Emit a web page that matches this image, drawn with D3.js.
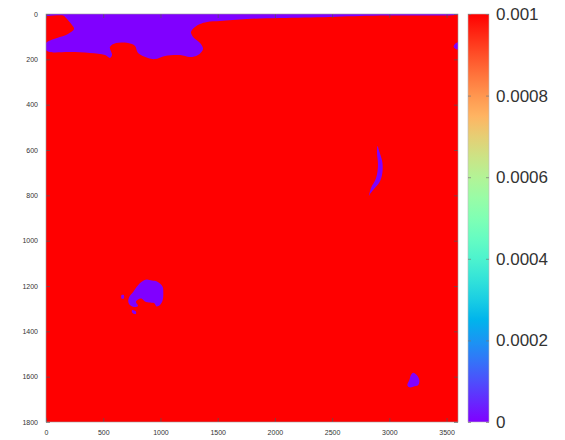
<!DOCTYPE html>
<html>
<head>
<meta charset="utf-8">
<script src="https://cdn.jsdelivr.net/npm/d3@7"></script>
<style>
  body { margin: 0; background: #fff; }
  text { font-family: "Liberation Sans", Arial, sans-serif; }
</style>
</head>
<body>
<div id="chart"></div>
<script>
// ---- data ----
const xTicks  = [0, 500, 1000, 1500, 2000, 2500, 3000, 3500];
const yTicks  = [0, 200, 400, 600, 800, 1000, 1200, 1400, 1600, 1800];
const cbTicks = [0, 0.0002, 0.0004, 0.0006, 0.0008, 0.001];
const cbLabels = ["0", "0.0002", "0.0004", "0.0006", "0.0008", "0.001"];

// the field is saturated (>= 0.001) everywhere except the zero-valued regions below
const fieldValue = 0.001;

// zero-valued regions, outlines in data units [x, y]
const topRegion = [
  [0,0],[3600,0],[3600,2],[2918,7],[2481,13],[2045,18],[1756,22],[1520,31],[1407,35],
  [1346,44],[1302,57],[1267,79],[1285,101],[1346,128],[1372,154],[1328,181],[1258,190],
  [1171,181],[1040,185],[952,199],[891,194],[804,172],[778,141],[717,128],[612,128],
  [559,146],[577,181],[559,194],[516,181],[384,172],[210,168],[35,168],[0,159],
  [0,128],[96,106],[192,88],[245,66],[227,49],[175,18],[149,7],[0,7]
];
const edgeNotch = [[3600,125],[3572,133],[3562,144],[3580,154],[3600,156]];
const crescent = [
  [2897,582],[2914,609],[2940,657],[2936,710],[2910,746],[2866,772],[2831,794],
  [2822,803],[2840,768],[2884,724],[2901,666],[2892,609]
];
const midBlob = [
  [836,1181],[880,1171],[926,1176],[970,1180],[996,1189],[1020,1204],[1025,1231],
  [1020,1262],[996,1284],[966,1290],[944,1275],[909,1273],[865,1268],[834,1255],
  [804,1260],[786,1271],[804,1288],[769,1293],[734,1284],[719,1269],[728,1247],
  [763,1225],[793,1203]
];
const speck1 = [[660,1240],[680,1240],[680,1255],[660,1255]];
const speck2 = [[752,1306],[786,1312],[784,1324],[754,1318]];
const lowBlob = [
  [3209,1583],[3239,1593],[3262,1615],[3253,1637],[3209,1644],[3175,1647],
  [3157,1637],[3175,1615],[3189,1593]
];
const regions = [
  {pts: topRegion, v: 0}, {pts: edgeNotch, v: 0}, {pts: crescent, v: 0},
  {pts: midBlob, v: 0}, {pts: speck1, v: 0}, {pts: speck2, v: 0}, {pts: lowBlob, v: 0}
];

// ---- layout ----
const W = 565, H = 440;
const plot = {x0: 46, x1: 458, y0: 14, y1: 422};
const cb = {x0: 468, x1: 489};

const svg = d3.select("#chart").append("svg").attr("width", W).attr("height", H);

const x = d3.scaleLinear().domain([0, 3600]).range([plot.x0, plot.x1]);
const y = d3.scaleLinear().domain([0, 1800]).range([plot.y0, plot.y1]);

// matplotlib-like "rainbow" colormap
function rainbow(t) {
  const r = Math.min(1, Math.abs(2 * t - 0.5));
  const g = Math.sin(Math.PI * t);
  const b = Math.cos(Math.PI * t / 2);
  return d3.rgb(r * 255, g * 255, b * 255).formatHex();
}
const colour = d3.scaleSequential(rainbow).domain([0, 0.001]).clamp(true);

// clip for the map
svg.append("clipPath").attr("id", "clip")
   .append("rect")
   .attr("x", plot.x0).attr("y", plot.y0)
   .attr("width", plot.x1 - plot.x0).attr("height", plot.y1 - plot.y0);

const map = svg.append("g").attr("clip-path", "url(#clip)");

map.append("rect")
   .attr("x", x(0)).attr("y", y(0))
   .attr("width", x(3600) - x(0)).attr("height", y(1800) - y(0))
   .attr("fill", colour(fieldValue));

const line = d3.line().x(d => x(d[0])).y(d => y(d[1])).curve(d3.curveCatmullRomClosed.alpha(0.5));

map.selectAll("path.region")
   .data(regions)
   .join("path")
   .attr("class", "region")
   .attr("d", d => line(d.pts))
   .attr("fill", d => colour(d.v));

// ---- axes (ticks on all four sides, pointing inward) ----
function styleAxis(sel, fs) {
  sel.select(".domain").remove();
  sel.selectAll(".tick line").attr("stroke", "#555").attr("stroke-width", 0.7);
  sel.selectAll(".tick text").attr("fill", "#333").style("font-size", fs + "px");
}
const fmt = d3.format("d");

svg.append("g").attr("transform", `translate(0,${plot.y1})`)
   .call(d3.axisBottom(x).tickValues(xTicks).tickFormat(fmt).tickSizeInner(-4).tickSizeOuter(0).tickPadding(8))
   .call(s => styleAxis(s, 7));
svg.append("g").attr("transform", `translate(0,${plot.y0})`)
   .call(d3.axisTop(x).tickValues(xTicks).tickSizeInner(-4).tickSizeOuter(0).tickFormat(""))
   .call(s => styleAxis(s, 7));
svg.append("g").attr("transform", `translate(${plot.x0},0)`)
   .call(d3.axisLeft(y).tickValues(yTicks).tickFormat(fmt).tickSizeInner(-4).tickSizeOuter(0).tickPadding(8))
   .call(s => styleAxis(s, 7));
svg.append("g").attr("transform", `translate(${plot.x1},0)`)
   .call(d3.axisRight(y).tickValues(yTicks).tickSizeInner(-4).tickSizeOuter(0).tickFormat(""))
   .call(s => styleAxis(s, 7));

svg.append("rect")
   .attr("x", plot.x0).attr("y", plot.y0)
   .attr("width", plot.x1 - plot.x0).attr("height", plot.y1 - plot.y0)
   .attr("fill", "none").attr("stroke", "#999").attr("stroke-width", 0.6);

// ---- colour bar ----
const cbY = d3.scaleLinear().domain([0, 0.001]).range([plot.y1, plot.y0]);

const grad = svg.append("defs").append("linearGradient")
   .attr("id", "cbgrad").attr("x1", 0).attr("y1", 1).attr("x2", 0).attr("y2", 0);
grad.selectAll("stop")
   .data(d3.range(0, 1.0001, 0.05))
   .join("stop")
   .attr("offset", d => d)
   .attr("stop-color", d => colour(d * 0.001));

svg.append("rect")
   .attr("x", cb.x0).attr("y", plot.y0)
   .attr("width", cb.x1 - cb.x0).attr("height", plot.y1 - plot.y0)
   .attr("fill", "url(#cbgrad)")
   .attr("stroke", "#bbb").attr("stroke-width", 0.6);

svg.append("g").attr("transform", `translate(${cb.x1},0)`)
   .call(d3.axisRight(cbY).tickValues(cbTicks).tickSizeInner(-3).tickSizeOuter(0).tickPadding(7)
         .tickFormat((d, i) => cbLabels[i]))
   .call(s => styleAxis(s, 17))
   .call(s => s.selectAll(".tick line").attr("stroke", "#777"));
svg.append("g").attr("transform", `translate(${cb.x0},0)`)
   .call(d3.axisLeft(cbY).tickValues(cbTicks).tickSizeInner(-3).tickSizeOuter(0).tickFormat(""))
   .call(s => styleAxis(s, 17))
   .call(s => s.selectAll(".tick line").attr("stroke", "#777"));
</script>
</body>
</html>
